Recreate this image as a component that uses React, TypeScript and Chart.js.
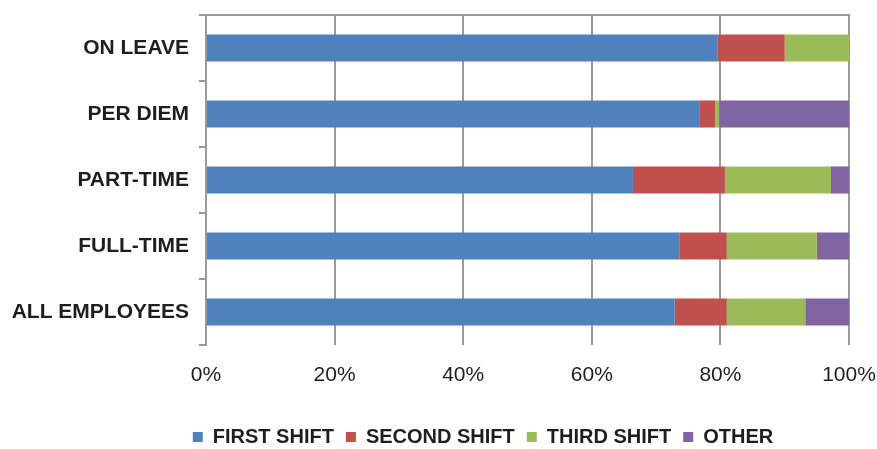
import React, { useEffect, useRef } from 'react';
import { Chart, registerables } from 'chart.js';

Chart.register(...registerables);

const categories = ['ON LEAVE', 'PER DIEM', 'PART-TIME', 'FULL-TIME', 'ALL EMPLOYEES'];
const seriesNames = ['FIRST SHIFT', 'SECOND SHIFT', 'THIRD SHIFT', 'OTHER'];
const firstShift = [79.5, 76.7, 66.4, 73.6, 72.9];
const secondShift = [10.5, 2.5, 14.3, 7.4, 8.1];
const thirdShift = [10.0, 0.6, 16.5, 14.0, 12.2];
const otherShift = [0, 20.2, 2.8, 5.0, 6.8];
const xTickValues = [0, 20, 40, 60, 80, 100];

const COLORS = ['#4F81BD', '#C0504D', '#9BBB59', '#8064A2'];
const GRID = '#9a9a9a';
const TEXT = '#1e1e1e';
const FONT = "'Liberation Sans', Arial, sans-serif";

const CANVAS_W = 966;
const CANVAS_H = 457;
const AREA_LEFT = 206;
const AREA_RIGHT = 849;

const topLine = {
  id: 'topLine',
  beforeDatasetsDraw(chart: any) {
    const { ctx, chartArea } = chart;
    ctx.save();
    ctx.strokeStyle = GRID;
    ctx.lineWidth = 2;
    ctx.beginPath();
    ctx.moveTo(chartArea.left - 1, chartArea.top);
    ctx.lineTo(chartArea.right + 1, chartArea.top);
    ctx.stroke();
    ctx.restore();
  },
};

export default function App() {
  const ref = useRef<HTMLCanvasElement | null>(null);

  useEffect(() => {
    if (!ref.current) return;
    const values = [firstShift, secondShift, thirdShift, otherShift];
    const chart = new Chart(ref.current, {
      type: 'bar',
      data: {
        labels: categories,
        datasets: seriesNames.map((name, i) => ({
          label: name,
          data: values[i],
          backgroundColor: COLORS[i],
          borderWidth: 0,
          barPercentage: 0.41,
          categoryPercentage: 1,
        })),
      },
      options: {
        indexAxis: 'y',
        animation: false,
        responsive: false,
        devicePixelRatio: 1,
        layout: { padding: { top: 15, left: 0, right: 0, bottom: 0 } },
        plugins: {
          legend: {
            position: 'bottom',
            labels: {
              boxWidth: 10,
              boxHeight: 10,
              padding: 12,
              color: TEXT,
              font: { family: FONT, size: 20, weight: 'bold' },
            },
          },
          tooltip: { enabled: false },
        },
        scales: {
          x: {
            stacked: true,
            min: 0,
            max: 100,
            afterBuildTicks: (scale: any) => {
              scale.ticks = xTickValues.map((v) => ({ value: v }));
            },
            afterFit: (scale: any) => {
              scale.paddingRight = CANVAS_W - AREA_RIGHT;
              scale.height = 70;
            },
            ticks: {
              callback: (v: any) => v + '%',
              color: TEXT,
              padding: 18,
              maxRotation: 0,
              font: { family: FONT, size: 21 },
            },
            grid: {
              color: GRID,
              lineWidth: 2,
              drawTicks: false,
            },
            border: { display: false },
          },
          y: {
            stacked: true,
            afterFit: (scale: any) => {
              scale.width = AREA_LEFT;
              scale.paddingTop = 0;
              scale.paddingBottom = 0;
            },
            ticks: {
              color: TEXT,
              padding: 10,
              font: { family: FONT, size: 21, weight: 'bold' },
            },
            grid: {
              offset: true,
              drawOnChartArea: false,
              drawTicks: true,
              tickLength: 7,
              color: GRID,
              lineWidth: 2,
            },
            border: { display: true, color: GRID, width: 2 },
          },
        },
      },
      plugins: [topLine],
    });
    return () => chart.destroy();
  }, []);

  return (
    <div
      style={{
        position: 'fixed',
        left: 0,
        top: 0,
        width: 877,
        height: 449,
        overflow: 'hidden',
        background: '#ffffff',
      }}
    >
      <canvas
        ref={ref}
        width={CANVAS_W}
        height={CANVAS_H}
        style={{ width: CANVAS_W, height: CANVAS_H, display: 'block' }}
      />
    </div>
  );
}
